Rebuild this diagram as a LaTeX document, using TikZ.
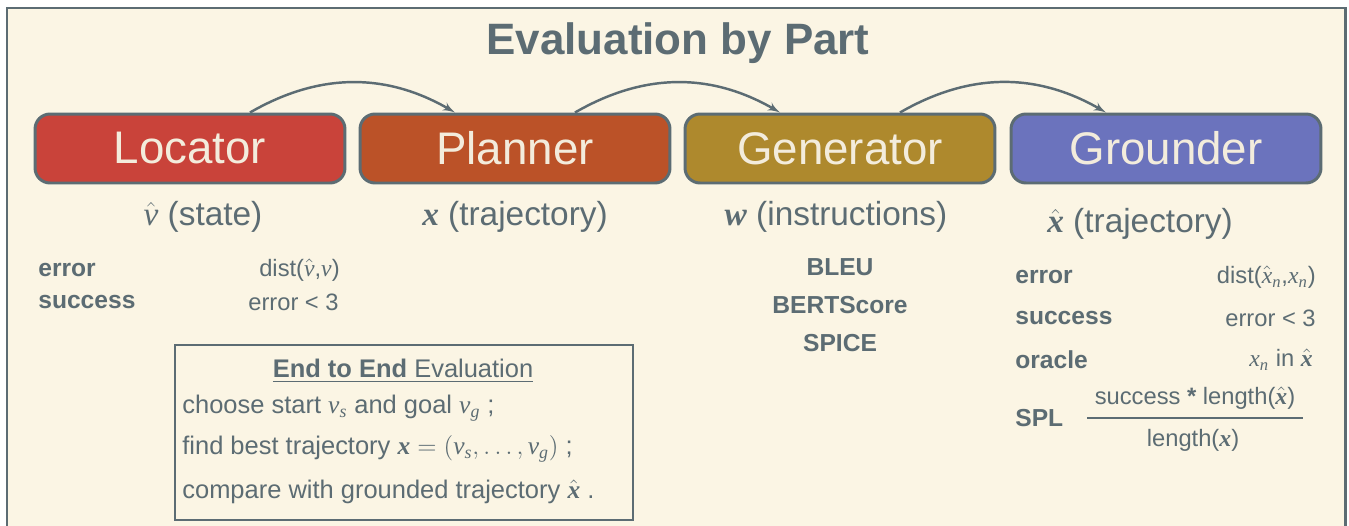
\documentclass[tikz,border=0pt]{standalone}
\usepackage{fontspec}
\setmainfont{Liberation Sans}
\newfontfamily\varfont{Liberation Serif}
\usepackage{amsmath}
\usepackage{tikz}
\usetikzlibrary{shapes,arrows,positioning,calc}

\definecolor{slate}{RGB}{92,108,115}
\definecolor{cream}{RGB}{251,245,228}
\definecolor{boxtext}{RGB}{243,236,220}
\definecolor{locred}{RGB}{201,67,58}
\definecolor{plaorange}{RGB}{187,82,40}
\definecolor{genochre}{RGB}{174,137,45}
\definecolor{grublue}{RGB}{107,115,189}

% serif variables, used inside math
\newcommand{\tv}[1]{\text{\varfont\itshape #1}}
\newcommand{\tb}[1]{\text{\varfont\bfseries\itshape #1}}

\begin{document}
\begin{tikzpicture}[x=0.02cm,y=-0.02cm,>=latex',text=slate]
%\draw[gray,very thin] (0,0) grid (1349,525);
\tikzstyle{block} = [draw=slate, shape=rectangle, rounded corners=0.3cm, minimum height=1.38cm, minimum width=6.2cm, line width=1.7pt, text=boxtext, font=\fontsize{26}{30}\selectfont]
\tikzstyle{outlabel} = [font=\fontsize{19}{23}\selectfont, inner sep=0pt]
\tikzstyle{metric} = [font=\fontsize{14}{17}\selectfont\bfseries, inner sep=0pt]
\tikzstyle{value} = [font=\fontsize{13.5}{16}\selectfont, inner sep=0pt]
\tikzstyle{line} = [font=\fontsize{14.5}{17}\selectfont, inner sep=0pt, anchor=west]
\tikzstyle{flow} = [->, draw=slate, line width=1.4pt]
\useasboundingbox (0,0) rectangle (1349,525);
\fill[white] (0,0) rectangle (1349,525);
%Frame
\fill[cream] (7,8) rectangle (1345,527);
\draw[slate, line width=1.7pt] (7,527) -- (7,8) -- (1345,8) -- (1345,527);
\node at (678,43) [font=\fontsize{25}{30}\selectfont\bfseries] (title) {Evaluation by Part};
%Creating Blocks
\node at (190,148.5) [block, fill=locred] (loc) {Locator};
\node at (515,148.5) [block, fill=plaorange] (pla) {Planner};
\node at (840,148.5) [block, fill=genochre] (gen) {Generator};
\node at (1166,148.5) [block, fill=grublue] (gro) {Grounder};
\begin{scope}[line width = 1.4pt]
\draw[flow] ([xshift=1.2cm]loc.north) to[out=30,in=150] ([xshift=-1.2cm]pla.north);
\draw[flow] ([xshift=1.2cm]pla.north) to[out=30,in=150] ([xshift=-1.2cm]gen.north);
\draw[flow] ([xshift=1.2cm]gen.north) to[out=30,in=150] ([xshift=-1.2cm]gro.north);
\end{scope}
%Outputs
\node at (203,217) [outlabel] (locout) {$\hat{\tv{v}}$ (state)};
\node at (515,217) [outlabel] (plaout) {$\tb{x}$ (trajectory)};
\node at (836,217) [outlabel] (genout) {$\tb{w}$ (instructions)};
\node at (1140,224) [outlabel] (groout) {$\hat{\tb{x}}$ (trajectory)};
%Locator metrics
\node at (38,270) [metric, anchor=west] (locerr) {error};
\node at (340,270) [value, anchor=east] (locdist) {dist($\hat{\tv{v}}$,$\tv{v}$)};
\node at (38,302) [metric, anchor=west] (locsucc) {success};
\node at (339,302) [value, anchor=east] (locthr) {error < 3};
%Generator metrics
\node at (840,267) [metric] (bleu) {BLEU};
\node at (840,305) [metric] (bert) {BERTScore};
\node at (840,343) [metric] (spice) {SPICE};
%Grounder metrics
\node at (1015,277) [metric, anchor=west] (groerr) {error};
\node at (1316,277) [value, anchor=east] (grodist) {dist($\hat{\tv{x}}_{\tv{n}}$,$\tv{x}_{\tv{n}}$)};
\node at (1015,318) [metric, anchor=west] (grosucc) {success};
\node at (1316,318) [value, anchor=east] (grothr) {error < 3};
\node at (1015,360) [metric, anchor=west] (groora) {oracle};
\node at (1313,360) [value, anchor=east] (groin) {$\tv{x}_{\tv{n}}$ in $\hat{\tb{x}}$};
\node at (1015,418) [metric, anchor=west] (grospl) {SPL};
\node at (1195,398) [value] (grofnum) {success \textbf{*} length($\hat{\tb{x}}$)};
\node at (1193,440) [value] (grofden) {length($\tb{x}$)};
\draw[slate, line width=1.3pt] (1087,418) -- (1303,418);
%End to End box
\node at (404,432.5) [draw=slate, line width=1.3pt, minimum width=9.16cm, minimum height=3.5cm] (e2e) {};
\node at (403,371) [font=\fontsize{14.5}{17}\selectfont, inner sep=0pt] (e2etitle) {\underline{\textbf{End to End} Evaluation}};
\node at (182,408) [line] (e2ea) {choose start $\tv{v}_{\tv{s}}$ and goal $\tv{v}_{\tv{g}}$ ;};
\node at (182,449) [line] (e2eb) {find best trajectory $\tb{x} = (\tv{v}_{\tv{s}}, \ldots, \tv{v}_{\tv{g}})$ ;};
\node at (182,492) [line] (e2ec) {compare with grounded trajectory $\hat{\tb{x}}$ .};
\end{tikzpicture}
\end{document}
